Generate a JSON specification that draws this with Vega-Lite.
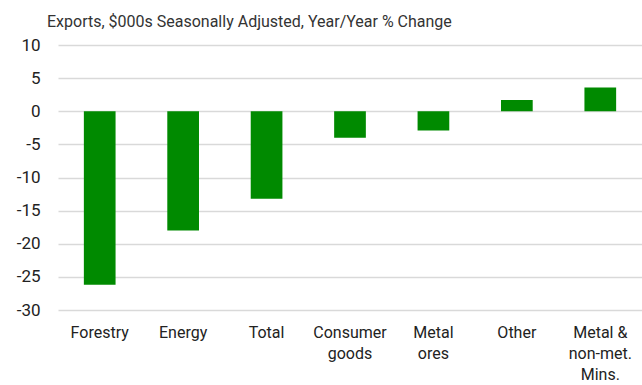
{
  "$schema": "https://vega.github.io/schema/vega-lite/v6.json",
  "width": 584,
  "height": 265,
  "autosize": "none",
  "padding": {"left": 58, "top": 45, "right": 0, "bottom": 75},
  "background": "white",
  "title": {
    "text": "Exports, $000s Seasonally Adjusted, Year/Year % Change",
    "anchor": "start",
    "frame": "group",
    "dx": -11,
    "offset": 6,
    "font": "Roboto",
    "fontSize": 16,
    "fontWeight": "normal",
    "color": "#333333"
  },
  "data": {
    "values": [
      {"category": "Forestry", "value": -26.2},
      {"category": "Energy", "value": -18.0},
      {"category": "Total", "value": -13.2},
      {"category": "Consumer|goods", "value": -4.0},
      {"category": "Metal|ores", "value": -2.9},
      {"category": "Other", "value": 1.7},
      {"category": "Metal &|non-met.|Mins.", "value": 3.6}
    ]
  },
  "mark": {"type": "bar", "color": "#008a00"},
  "encoding": {
    "x": {
      "field": "category",
      "type": "nominal",
      "sort": null,
      "scale": {"paddingInner": 0.62, "paddingOuter": 0.31},
      "axis": {
        "title": null,
        "labelAngle": 0,
        "domain": false,
        "ticks": false,
        "labelPadding": 14,
        "labelFont": "Roboto",
        "labelFontSize": 16,
        "labelColor": "#222222",
        "labelLineHeight": 21,
        "labelExpr": "split(datum.value, '|')"
      }
    },
    "y": {
      "field": "value",
      "type": "quantitative",
      "scale": {"domain": [-30, 10], "nice": false},
      "axis": {
        "title": null,
        "values": [-30, -25, -20, -15, -10, -5, 0, 5, 10],
        "domain": false,
        "ticks": false,
        "labelPadding": 18,
        "labelFont": "Roboto",
        "labelFontSize": 17,
        "labelColor": "#222222",
        "labelExpr": "datum.value + ''",
        "gridColor": "#d9d9d9",
        "gridWidth": 1.5
      }
    }
  },
  "config": {"view": {"stroke": null}}
}
